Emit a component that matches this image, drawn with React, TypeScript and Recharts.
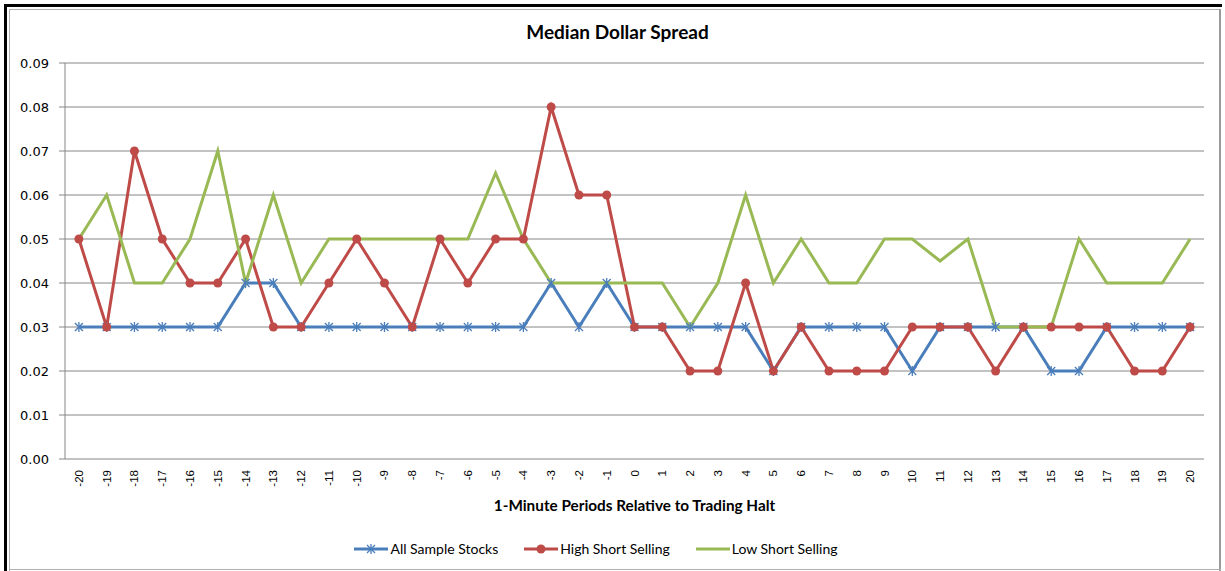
import React from "react";
import { LineChart, Line, XAxis, YAxis, CartesianGrid, Legend } from "recharts";

// 1-minute periods relative to the trading halt
const periods = [
  -20, -19, -18, -17, -16, -15, -14, -13, -12, -11, -10, -9, -8, -7, -6, -5, -4, -3, -2, -1, 0,
  1, 2, 3, 4, 5, 6, 7, 8, 9, 10, 11, 12, 13, 14, 15, 16, 17, 18, 19, 20,
];

const allSample = [
  0.03, 0.03, 0.03, 0.03, 0.03, 0.03, 0.04, 0.04, 0.03, 0.03, 0.03, 0.03, 0.03, 0.03, 0.03, 0.03, 0.03,
  0.04, 0.03, 0.04, 0.03, 0.03, 0.03, 0.03, 0.03, 0.02, 0.03, 0.03, 0.03, 0.03, 0.02, 0.03, 0.03, 0.03,
  0.03, 0.02, 0.02, 0.03, 0.03, 0.03, 0.03,
];

const highShort = [
  0.05, 0.03, 0.07, 0.05, 0.04, 0.04, 0.05, 0.03, 0.03, 0.04, 0.05, 0.04, 0.03, 0.05, 0.04, 0.05, 0.05,
  0.08, 0.06, 0.06, 0.03, 0.03, 0.02, 0.02, 0.04, 0.02, 0.03, 0.02, 0.02, 0.02, 0.03, 0.03, 0.03, 0.02,
  0.03, 0.03, 0.03, 0.03, 0.02, 0.02, 0.03,
];

const lowShort = [
  0.05, 0.06, 0.04, 0.04, 0.05, 0.07, 0.04, 0.06, 0.04, 0.05, 0.05, 0.05, 0.05, 0.05, 0.05, 0.065, 0.05,
  0.04, 0.04, 0.04, 0.04, 0.04, 0.03, 0.04, 0.06, 0.04, 0.05, 0.04, 0.04, 0.05, 0.05, 0.045, 0.05, 0.03,
  0.03, 0.03, 0.05, 0.04, 0.04, 0.04, 0.05,
];

const yTicks = [0, 0.01, 0.02, 0.03, 0.04, 0.05, 0.06, 0.07, 0.08, 0.09];

const BLUE = "#4A7EBB";
const RED = "#BE4B48";
const GREEN = "#98B954";
const GRID = "#868686";

const data = periods.map((p, i) => ({
  period: p,
  all: allSample[i],
  high: highShort[i],
  low: lowShort[i],
}));

// tick marks sit between the categories, like Excel
const boundaryTicks = [...periods.map((p) => p - 0.5), periods[periods.length - 1] + 0.5];

function Asterisk({ cx, cy, color }: { cx: number; cy: number; color: string }) {
  const s = 4;
  return (
    <g stroke={color} strokeWidth={1.3}>
      <line x1={cx - s} y1={cy - s} x2={cx + s} y2={cy + s} />
      <line x1={cx - s} y1={cy + s} x2={cx + s} y2={cy - s} />
      <line x1={cx} y1={cy - s - 1} x2={cx} y2={cy + s + 1} />
    </g>
  );
}

function renderAsterisk(props: any) {
  const { cx, cy, index } = props;
  if (cx == null || cy == null) return <g key={index} />;
  return <Asterisk key={index} cx={cx} cy={cy} color={BLUE} />;
}

function renderCircle(props: any) {
  const { cx, cy, index } = props;
  if (cx == null || cy == null) return <g key={index} />;
  return <circle key={index} cx={cx} cy={cy} r={4.5} fill={RED} />;
}

function RotatedTick(props: any) {
  const { x, y, payload } = props;
  return (
    <text
      x={x}
      y={y}
      transform={`rotate(-90, ${x}, ${y})`}
      textAnchor="end"
      dominantBaseline="central"
      fontSize={11.5}
      fontFamily="'Liberation Sans', Arial, sans-serif"
      fill="#000"
    >
      {payload.value}
    </text>
  );
}

const legendItems = [
  { label: "All Sample Stocks", color: BLUE, marker: "asterisk" },
  { label: "High Short Selling", color: RED, marker: "circle" },
  { label: "Low Short Selling", color: GREEN, marker: "none" },
];

function ChartLegend() {
  return (
    <div
      style={{
        display: "flex",
        justifyContent: "center",
        alignItems: "center",
        gap: 26,
        paddingTop: 9,
        paddingRight: 12,
        fontFamily: "Lato, 'Open Sans', sans-serif",
        fontSize: 14,
        color: "#000",
      }}
    >
      {legendItems.map((item) => (
        <div key={item.label} style={{ display: "flex", alignItems: "center" }}>
          <svg width={34} height={12} style={{ marginRight: 2 }}>
            <line x1={0} y1={6} x2={34} y2={6} stroke={item.color} strokeWidth={3} />
            {item.marker === "asterisk" && <Asterisk cx={17} cy={6} color={item.color} />}
            {item.marker === "circle" && <circle cx={17} cy={6} r={4.5} fill={item.color} />}
          </svg>
          <span>{item.label}</span>
        </div>
      ))}
    </div>
  );
}

// picture frame around the chart: heavy dark edge top/left, light edge right/bottom
function Frame() {
  return (
    <svg
      width={1225}
      height={571}
      style={{ position: "absolute", left: 0, top: 0, pointerEvents: "none" }}
    >
      <rect x={4} y={4} width={1218} height={3} fill="#000" />
      <rect x={4} y={4} width={3} height={567} fill="#000" />
      <rect x={9} y={9} width={1211} height={1} fill="#b0b0b0" />
      <rect x={9} y={9} width={1} height={562} fill="#b0b0b0" />
      <rect x={1219} y={9} width={2} height={562} fill="#9a9a9a" />
      <rect x={9} y={569} width={1212} height={1} fill="#b0b0b0" />
    </svg>
  );
}

export default function App() {
  return (
    <div style={{ position: "fixed", left: 0, top: 0, width: 1225, height: 571, background: "#fff" }}>
      <div
        style={{
          position: "absolute",
          left: 0,
          top: 20,
          width: 1225,
          textAlign: "center",
          fontFamily: "Lato, 'Open Sans', sans-serif",
          fontWeight: 700,
          fontSize: 19,
          color: "#000",
          paddingLeft: 10,
          boxSizing: "border-box",
        }}
      >
        Median Dollar Spread
      </div>
      <div style={{ position: "absolute", left: 0, top: 0 }}>
        <LineChart width={1225} height={571} data={data} margin={{ top: 63, right: 21, left: 0, bottom: 10 }}>
          <CartesianGrid xAxisId="labels" vertical={false} stroke={GRID} strokeWidth={1} />
          <XAxis
            xAxisId="grid"
            dataKey="period"
            type="number"
            domain={[-20.5, 20.5]}
            ticks={boundaryTicks}
            interval={0}
            tick={false}
            tickSize={5}
            stroke={GRID}
            height={0}
          />
          <XAxis
            xAxisId="labels"
            dataKey="period"
            type="number"
            domain={[-20.5, 20.5]}
            ticks={periods}
            interval={0}
            axisLine={false}
            tickLine={false}
            tickSize={0}
            tickMargin={11}
            tick={<RotatedTick />}
            height={72}
            label={{
              value: "1-Minute Periods Relative to Trading Halt",
              position: "insideBottom",
              offset: 20,
              style: {
                fontFamily: "Lato, 'Open Sans', sans-serif",
                fontWeight: 700,
                fontSize: 15.3,
                fill: "#000",
              },
            }}
          />
          <YAxis
            domain={[0, 0.09]}
            ticks={yTicks}
            interval={0}
            width={65}
            tickSize={6}
            tickMargin={10}
            stroke={GRID}
            tickFormatter={(v) => Number(v).toFixed(2)}
            tick={{ fontSize: 13, fontFamily: "'DejaVu Sans', sans-serif", fill: "#000" }}
          />
          <Legend verticalAlign="bottom" height={30} content={() => <ChartLegend />} />
          <Line
            xAxisId="labels"
            dataKey="all"
            name="All Sample Stocks"
            stroke={BLUE}
            strokeWidth={3}
            dot={renderAsterisk}
            activeDot={false}
            isAnimationActive={false}
          />
          <Line
            xAxisId="labels"
            dataKey="high"
            name="High Short Selling"
            stroke={RED}
            strokeWidth={3}
            dot={renderCircle}
            activeDot={false}
            isAnimationActive={false}
          />
          <Line
            xAxisId="labels"
            dataKey="low"
            name="Low Short Selling"
            stroke={GREEN}
            strokeWidth={3}
            dot={false}
            activeDot={false}
            isAnimationActive={false}
          />
        </LineChart>
      </div>
      <Frame />
    </div>
  );
}
